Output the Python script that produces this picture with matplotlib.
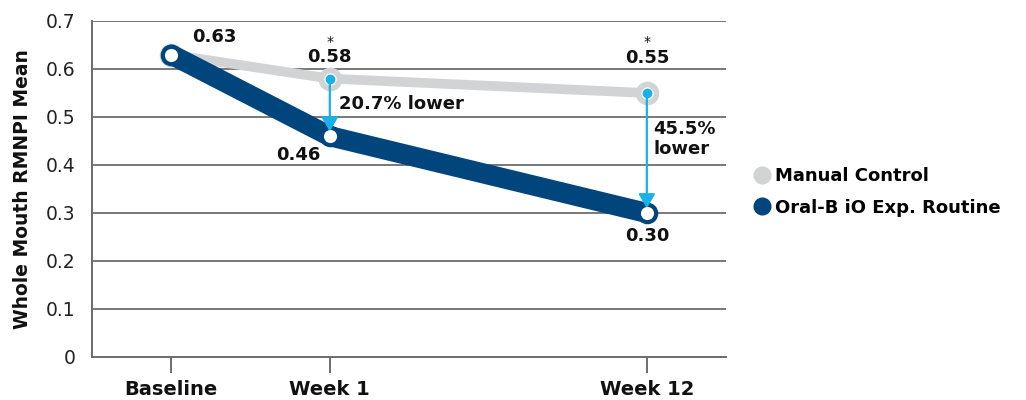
import matplotlib
matplotlib.use("Agg")
import matplotlib.pyplot as plt
from matplotlib.lines import Line2D

categories = ["Baseline", "Week 1", "Week 12"]
manual = [0.63, 0.58, 0.55]
oralb = [0.63, 0.46, 0.30]
yticks = [0, 0.1, 0.2, 0.3, 0.4, 0.5, 0.6, 0.7]
ytick_labels = ["0", "0.1", "0.2", "0.3", "0.4", "0.5", "0.6", "0.7"]
diff_labels = ["20.7% lower", "45.5%\nlower"]
series_names = ["Manual Control", "Oral-B iO Exp. Routine"]

xpos = [0.5, 1.5, 3.5]

BLUE = "#00457c"
GRAY = "#d2d3d5"
CYAN = "#1ab0ea"
TXT = "#111111"

plt.rcParams['font.family'] = ['DejaVu Sans']

fig = plt.figure(figsize=(10.26, 4.0), dpi=100)
ax = fig.add_axes([0.0897, 0.1075, 0.618, 0.84])

ax.set_xlim(0, 4)
ax.set_ylim(0, 0.7)

for y in yticks[1:]:
    ax.axhline(y, color="#6d6d6d", lw=1.3, zorder=1)

ax.plot(xpos, manual, color=GRAY, lw=7, solid_capstyle="round", zorder=2)
ax.plot(xpos, manual, ls="none", marker="o", ms=13, mfc="white", mec=GRAY, mew=4, zorder=3)
ax.plot(xpos, oralb, color=BLUE, lw=14.5, solid_capstyle="round", solid_joinstyle="round", zorder=4)
ax.plot(xpos, oralb, ls="none", marker="o", ms=12.5, mfc="white", mec=BLUE, mew=3, zorder=5)

# arrows
for i in [1, 2]:
    ax.annotate("", xy=(xpos[i], oralb[i] + 0.01), xytext=(xpos[i], manual[i]),
                arrowprops=dict(arrowstyle="-|>,head_width=0.5,head_length=0.85",
                                color=CYAN, lw=1.6, shrinkA=0, shrinkB=0), zorder=6)
    ax.plot(xpos[i], manual[i], ls="none", marker="o", ms=6, color=CYAN, zorder=7)

bold = dict(fontweight="bold", color=TXT, fontsize=13)
ax.text(xpos[0] + 0.27, manual[0] + 0.017, f"{manual[0]:.2f}", ha="center", va="bottom", **bold)
ax.text(xpos[1], manual[1] + 0.027, f"{manual[1]:.2f}", ha="center", va="bottom", **bold)
ax.text(xpos[2], manual[2] + 0.055, f"{manual[2]:.2f}", ha="center", va="bottom", **bold)
ax.text(xpos[1], manual[1] + 0.062, "*", ha="center", va="bottom", fontsize=10, color=TXT)
ax.text(xpos[2], manual[2] + 0.092, "*", ha="center", va="bottom", fontsize=10, color=TXT)
ax.text(xpos[1] - 0.2, oralb[1] - 0.02, f"{oralb[1]:.2f}", ha="center", va="top", **bold)
ax.text(xpos[2], oralb[2] - 0.03, f"{oralb[2]:.2f}", ha="center", va="top", **bold)
ax.text(xpos[1] + 0.06, 0.527, diff_labels[0], ha="left", va="center", **bold)
ax.text(xpos[2] + 0.04, 0.455, diff_labels[1], ha="left", va="center", linespacing=1.15, **bold)

ax.set_yticks(yticks)
ax.set_yticklabels(ytick_labels, fontsize=13.5, color="#222222")
ax.tick_params(axis="y", length=0, pad=12)
ax.set_xticks(xpos)
ax.set_xticklabels(categories, fontsize=14, fontweight="bold", color=TXT)
ax.tick_params(axis="x", length=11.5, width=1.2, color="#555555", pad=5)

for s in ["top", "right"]:
    ax.spines[s].set_visible(False)
for s in ["left", "bottom"]:
    ax.spines[s].set_color("#6d6d6d")
    ax.spines[s].set_linewidth(1.4)

ax.set_ylabel("Whole Mouth RMNPI Mean", fontsize=13.5, fontweight="bold", color=TXT, labelpad=10)

handles = [Line2D([], [], ls="none", marker="o", ms=12, color=GRAY),
           Line2D([], [], ls="none", marker="o", ms=12, color=BLUE)]
fig.legend(handles, series_names, loc="upper left", bbox_to_anchor=(0.727, 0.6),
           frameon=False, handletextpad=0.2, labelspacing=0.75,
           prop=dict(weight="bold", size=13), handlelength=1.0, borderaxespad=0)

fig.savefig("out.png", dpi=100)
